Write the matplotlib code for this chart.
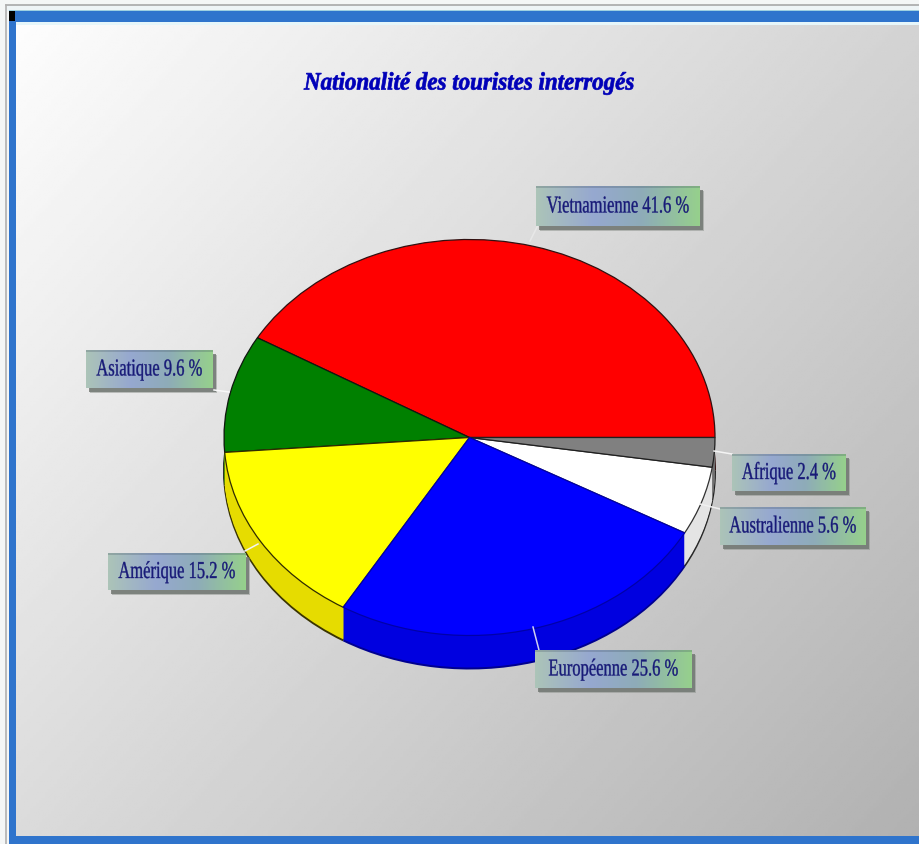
import numpy as np
import matplotlib
matplotlib.use("Agg")
import matplotlib.pyplot as plt
from matplotlib.patches import Rectangle
from matplotlib.patheffects import AbstractPathEffect
from matplotlib.transforms import Affine2D

title = "Nationalité des touristes interrogés"
names = ["Vietnamienne", "Asiatique", "Amérique", "Européenne", "Australienne", "Afrique"]
values = [41.6, 9.6, 15.2, 25.6, 5.6, 2.4]

top_colors = ["#ff0000", "#008000", "#ffff00", "#0000ff", "#ffffff", "#808080"]
edge_colors = ["#301010", "#101810", "#302c00", "#0000a8", "#303030", "#202020"]
wall_colors = ["#d00000", "#006800", "#e6dc00", "#0000e0", "#e4e4e4", "#707070"]
rim_colors = ["#301010", "#101810", "#3a3400", "#000090", "#282828", "#202020"]

# label boxes in pixels: left, right, top, bottom
boxes = [(536, 700, 187, 227), (86, 213, 351, 389), (108, 246, 554, 591),
         (535, 692, 651, 689), (720, 866, 508, 546), (732, 846, 455, 492)]
# leader lines in pixels
leaders = [((530, 242), (538, 226), "#e8e8e8"), ((214, 391), (229, 393), "#f8f8f8"),
           ((245, 552), (258, 545), "#f4f4f4"), ((533, 628), (540, 655), "#d0d0f0"),
           ((700, 505), (720, 510), "#f0f0f0"), ((714, 452), (732, 455), "#f4f4f4")]

W, H = 920, 845
cx, cy, rx, ry, depth = 469.5, 438.5, 245.5, 198, 32


class Squeeze(AbstractPathEffect):
    # narrow the text around its centre, the original font is condensed
    def __init__(self, sx, xc, lw=0.0):
        super().__init__()
        self.sx = sx
        self.xc = xc
        self.lw = lw

    def draw_path(self, renderer, gc, tpath, affine, rgbFace=None):
        t = affine + Affine2D().translate(-self.xc, 0).scale(self.sx, 1).translate(self.xc, 0)
        gc0 = renderer.new_gc()
        gc0.copy_properties(gc)
        if self.lw > 0:
            gc0.set_linewidth(self.lw)
            gc0.set_foreground(rgbFace)
        renderer.draw_path(gc0, tpath, t, rgbFace)
        gc0.restore()


fig = plt.figure(figsize=(W / 100, H / 100), dpi=100)
fig.patch.set_facecolor("#f4f6f6")

# background and frame, pixel coordinates
bg = fig.add_axes([0, 0, 1, 1])
xx, yy = np.meshgrid(np.linspace(0, 1, 300), np.linspace(0, 1, 300))
shade = 253 - 76 * (0.55 * xx + 0.45 * yy)
bg.imshow(shade, cmap="gray", vmin=0, vmax=255, extent=(16, W, 838, 23), aspect="auto")
bg.add_patch(Rectangle((16, 23), W - 16, 3, fc="#e6f6fa", ec="none"))
bg.add_patch(Rectangle((6, 6), W - 6, 6, fc="#eef4f6", ec="none"))
bg.plot([6, W], [6, 6], color="#a8a8a8", lw=1.2)
bg.plot([6, 6], [6, H], color="#b0b0b0", lw=1.2)
bg.add_patch(Rectangle((9, 11), W - 9, 1.5, fc="#9fd0e0", ec="none"))
bg.add_patch(Rectangle((9, 12), W - 9, 11, fc="#2f74cc", ec="none"))
bg.add_patch(Rectangle((9, 12), 7, H - 12, fc="#2f74cc", ec="none"))
bg.add_patch(Rectangle((9, 837), W - 9, 8, fc="#2f74cc", ec="none"))
bg.add_patch(Rectangle((9, 12), 6, 10, fc="#000000", ec="none"))
bg.set_xlim(0, W)
bg.set_ylim(H, 0)
bg.axis("off")

# pie, data unit is rx wide and ry high so the circle comes out as the ellipse
ax = fig.add_axes([0, 0, 1, 1])
ax.patch.set_alpha(0)
ax.pie(values, colors=rim_colors, startangle=0, center=(0, -(depth + 1.2) / ry), radius=1.004)
for d in range(depth, 0, -1):
    ax.pie(values, colors=wall_colors, startangle=0, center=(0, -d / ry))
wedges, _ = ax.pie(values, colors=top_colors, startangle=0, center=(0, 0),
                   wedgeprops={"linewidth": 0.9})
for i, w in enumerate(wedges):
    w.set_edgecolor(edge_colors[i])
    w.set_zorder(5)
wedges[3].set_zorder(6)
ax.set_aspect("auto")
ax.set_xlim(-cx / rx, (W - cx) / rx)
ax.set_ylim((cy - H) / ry, cy / ry)
ax.axis("off")

# labels, pixel coordinates again
fg = fig.add_axes([0, 0, 1, 1])
fg.patch.set_alpha(0)
for p0, p1, col in leaders:
    fg.plot([p0[0], p1[0]], [p0[1], p1[1]], color=col, lw=1.1)

stops = np.array([[172, 196, 184], [150, 168, 208], [142, 172, 184], [150, 208, 140]]) / 255
pos = [0, 0.35, 0.65, 1]
ramp = np.stack([np.interp(np.linspace(0, 1, 120), pos, stops[:, i]) for i in range(3)], axis=1)[None, :, :]
for name, val, (l, r, t, b) in zip(names, values, boxes):
    fg.add_patch(Rectangle((l + 4, t + 5), r - l, b - t, fc="#8a8f8a", ec="none", alpha=0.5, zorder=1))
    fg.add_patch(Rectangle((l + 3, t + 4), r - l, b - t, fc="#6f7570", ec="none", alpha=0.8, zorder=1))
    fg.imshow(ramp, extent=(l, r, b, t), aspect="auto", zorder=2)
    fg.add_patch(Rectangle((l, t), r - l, 2, fc="#405060", ec="none", alpha=0.25, zorder=2.5))
    xc = (l + r) / 2
    fg.text(xc, (t + b) / 2 + 1, f"{name} {val:.1f} %", ha="center", va="center", zorder=3,
            family="Liberation Serif", fontsize=17.5, color="#181a78",
            path_effects=[Squeeze(0.68, xc, 0.25)])

fg.text(469.5, 84, title, ha="center", va="center", family="Liberation Serif", fontsize=18,
        weight="bold", style="italic", color="#0000b8", path_effects=[Squeeze(0.92, 469.5, 0.5)])
fg.set_xlim(0, W)
fg.set_ylim(H, 0)
fg.axis("off")

fig.savefig("out.png", dpi=100, facecolor=fig.get_facecolor())
